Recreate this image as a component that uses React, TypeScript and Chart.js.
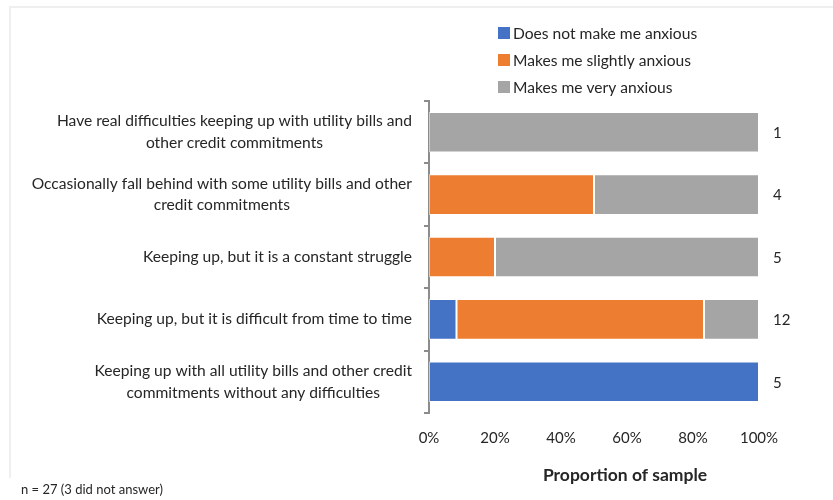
import React, { useEffect, useRef } from "react";
import { Chart, registerables } from "chart.js";

Chart.register(...registerables);

const categories: string[][] = [
  ["Have real difficulties keeping up with utility bills and", "other credit commitments"],
  ["Occasionally fall behind with some utility bills and other", "credit commitments"],
  ["Keeping up, but it is a constant struggle"],
  ["Keeping up, but it is difficult from time to time"],
  ["Keeping up with all utility bills and other credit", "commitments without any difficulties"],
];

const seriesNames = ["Does not make me anxious", "Makes me slightly anxious", "Makes me very anxious"];
const seriesColors = ["#4472C4", "#ED7D31", "#A5A5A5"];

// respondent counts per category
const notAnxiousCounts = [0, 0, 0, 1, 5];
const slightlyAnxiousCounts = [0, 2, 1, 9, 0];
const veryAnxiousCounts = [1, 2, 4, 2, 0];

const xTicks = [0, 20, 40, 60, 80, 100];
const xTitle = "Proportion of sample";
const footnote = "n = 27 (3 did not answer)";

const FONT = "Lato, 'Noto Sans', sans-serif";

export default function App() {
  const ref = useRef<HTMLCanvasElement | null>(null);

  useEffect(() => {
    const totals = categories.map(
      (_, i) => notAnxiousCounts[i] + slightlyAnxiousCounts[i] + veryAnxiousCounts[i]
    );
    const pct = (arr: number[]) => arr.map((v, i) => (totals[i] ? (v / totals[i]) * 100 : 0));
    const seriesCounts = [notAnxiousCounts, slightlyAnxiousCounts, veryAnxiousCounts];

    const extras = {
      id: "extras",
      beforeDraw(chart: any) {
        const ctx = chart.ctx;
        ctx.save();
        ctx.fillStyle = "#ffffff";
        ctx.fillRect(0, 0, chart.width, chart.height);
        ctx.strokeStyle = "#efefef";
        ctx.lineWidth = 2;
        ctx.beginPath();
        ctx.moveTo(10, 478);
        ctx.lineTo(10, 7);
        ctx.lineTo(chart.width, 7);
        ctx.stroke();
        ctx.restore();
      },
      afterDraw(chart: any) {
        const ctx = chart.ctx;
        const y = chart.scales.y;
        const area = chart.chartArea;
        ctx.save();
        // category labels
        ctx.font = `15.6px ${FONT}`;
        ctx.fillStyle = "#262626";
        ctx.textBaseline = "middle";
        ctx.textAlign = "center";
        const lh = 21.5;
        categories.forEach((lines, i) => {
          const yc = y.getPixelForValue(i);
          const maxW = Math.max(...lines.map((l) => ctx.measureText(l).width));
          const xc = 412 - maxW / 2;
          lines.forEach((l, k) => {
            ctx.fillText(l, xc, yc + (k - (lines.length - 1) / 2) * lh);
          });
        });
        // totals on the right
        ctx.textAlign = "left";
        ctx.font = `15px ${FONT}`;
        totals.forEach((t, i) => {
          ctx.fillText(String(t), area.right + 14, y.getPixelForValue(i) + 1);
        });
        // legend
        ctx.font = `15.6px ${FONT}`;
        seriesNames.forEach((name, i) => {
          const ly = 33 + i * 27;
          ctx.fillStyle = seriesColors[i];
          ctx.fillRect(498, ly - 6, 12, 12);
          ctx.fillStyle = "#262626";
          ctx.fillText(name, 513, ly + 1);
        });
        // x axis title
        ctx.font = `bold 17.5px ${FONT}`;
        ctx.textAlign = "center";
        ctx.fillText(xTitle, 625, 475);
        // footnote
        ctx.font = `13px ${FONT}`;
        ctx.textAlign = "left";
        ctx.fillText(footnote, 21, 490);
        ctx.restore();
      },
    };

    const chart = new Chart(ref.current as HTMLCanvasElement, {
      type: "bar",
      data: {
        labels: categories.map((c) => c.join(" ")),
        datasets: seriesNames.map((name, s) => ({
          label: name,
          data: pct(seriesCounts[s]),
          backgroundColor: seriesColors[s],
          borderColor: "rgba(255,255,255,0.55)",
          borderWidth: 1,
          borderSkipped: false,
          categoryPercentage: 1,
          barPercentage: 0.65,
        })),
      },
      options: {
        indexAxis: "y",
        animation: false,
        responsive: false,
        maintainAspectRatio: false,
        layout: { padding: { top: 101, right: 74, left: 0, bottom: 0 } },
        plugins: {
          legend: { display: false },
          tooltip: { enabled: false },
        },
        scales: {
          x: {
            stacked: true,
            min: 0,
            max: 100,
            afterBuildTicks: (scale: any) => {
              scale.ticks = xTicks.map((v) => ({ value: v }));
            },
            ticks: {
              callback: (v: any) => v + "%",
              font: { family: FONT, size: 15 },
              color: "#262626",
              padding: 16,
              maxRotation: 0,
            },
            grid: { display: false, drawTicks: false },
            border: { display: false },
            afterFit: (scale: any) => {
              scale.height = 87;
            },
          },
          y: {
            stacked: true,
            offset: true,
            ticks: { display: false },
            grid: {
              drawOnChartArea: false,
              drawTicks: true,
              tickLength: 5,
              color: "#8c8c8c",
              lineWidth: 2,
              offset: true,
            },
            border: { display: true, color: "#8c8c8c", width: 2 },
            afterFit: (scale: any) => {
              scale.width = 429;
            },
          },
        },
      },
      plugins: [extras],
    });
    return () => chart.destroy();
  }, []);

  return (
    <div style={{ position: "fixed", left: 0, top: 0, width: 833, height: 500, background: "#fff" }}>
      <canvas ref={ref} width={833} height={500} style={{ display: "block", width: 833, height: 500 }} />
    </div>
  );
}
